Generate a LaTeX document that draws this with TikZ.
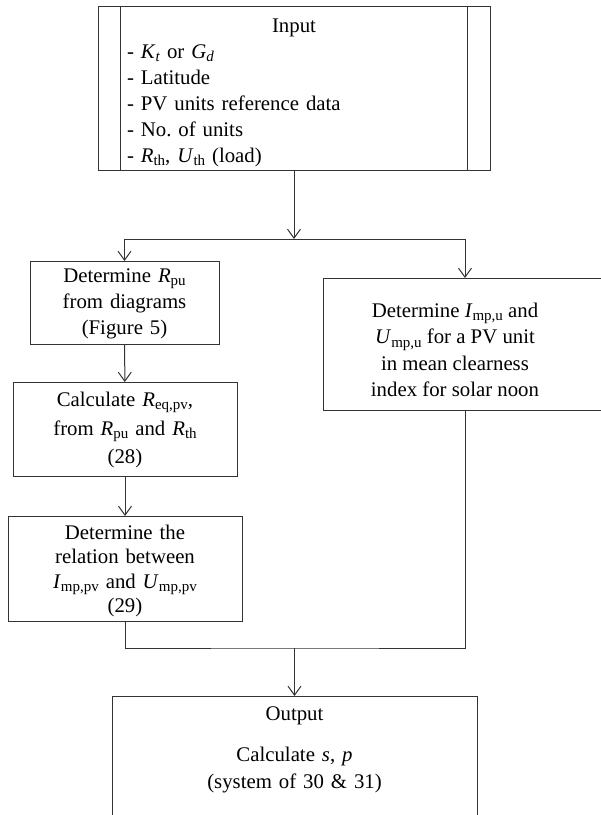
\documentclass[tikz,border=0pt]{standalone}
\usepackage{fontspec}
\setmainfont{Liberation Serif}
\usetikzlibrary{arrows.meta,positioning}
\newcommand{\vsub}[2]{\textit{#1}\raisebox{-0.35ex}{\fontsize{15}{15}\selectfont #2}}

\begin{document}
\begin{tikzpicture}[x=1pt, y=-1pt,
    box/.style={draw=black!80, line width=1pt, anchor=north, inner xsep=4pt, inner ysep=0pt, align=center, font=\fontsize{20.8}{26}\selectfont},
    arrow/.style={-{Straight Barb[length=9pt,width=13pt]}, draw=black!80, line width=1pt},
    line/.style={draw=black!80, line width=1pt}
]
\useasboundingbox (0,0) rectangle (601,815);
\clip (0,0) rectangle (601,815);

% Input
\node (input) [box, align=left, text width=334pt, minimum width=392pt, text height=26pt, text depth=138pt] at (294,6)
    {\hfill Input\hfill\null\\ - \vsub{K}{\textit{t}} or \vsub{G}{\textit{d}}\\ - Latitude\\ - PV units reference data\\ - No.\ of units\\ - \vsub{R}{th}, \vsub{U}{th} (load)};
\draw[line] ([xshift=23pt]input.north west) -- ([xshift=23pt]input.south west);
\draw[line] ([xshift=-23pt]input.north east) -- ([xshift=-23pt]input.south east);

% Left branch
\node (rpu) [box, text width=181pt, text height=21pt, text depth=62pt] at (124.5,261)
    {Determine \vsub{R}{pu}\\ from diagrams\\ (Figure 5)};
\node (eqpv) [box, text width=216pt, text height=24pt, text depth=70pt, font=\fontsize{20.8}{28.5}\selectfont] at (125,382)
    {Calculate \vsub{R}{eq,pv},\\ from \vsub{R}{pu} and \vsub{R}{th}\\ (28)};
\node (rel) [box, text width=226pt, text height=23pt, text depth=82pt, font=\fontsize{20.8}{24.3}\selectfont] at (125,516)
    {Determine the\\ relation between\\ \vsub{I}{mp,pv} and \vsub{U}{mp,pv}\\ (29)};

% Right branch (box runs past the right edge)
\node (impu) [box, text height=39pt, text depth=93pt, font=\fontsize{20.8}{26.3}\selectfont] at (465,278)
    {\parbox[t]{256pt}{\centering Determine \vsub{I}{mp,u} and\\ \vsub{U}{mp,u} for a PV unit\\ in mean clearness\\ index for solar noon}\hspace{20pt}};

% Output
\node (output) [box, text width=357pt, text height=24pt, text depth=130pt, font=\fontsize{20.8}{27}\selectfont] at (294.5,696)
    {Output\\[14pt] Calculate \textit{s}, \textit{p}\\ (system of 30 \& 31)};

\coordinate (split) at (294,239);
\coordinate (join) at (294.5,648);

% Connections
\draw[arrow] (input) -- (split);
\draw[arrow] (split) -| (rpu);
\draw[arrow] (split) -| (impu);
\draw[arrow] (rpu) -- (eqpv);
\draw[arrow] (eqpv) -- (rel);
\draw[line] (rel) |- (join) -| (impu);
\draw[arrow] (join) -- (output);

\end{tikzpicture}
\end{document}
